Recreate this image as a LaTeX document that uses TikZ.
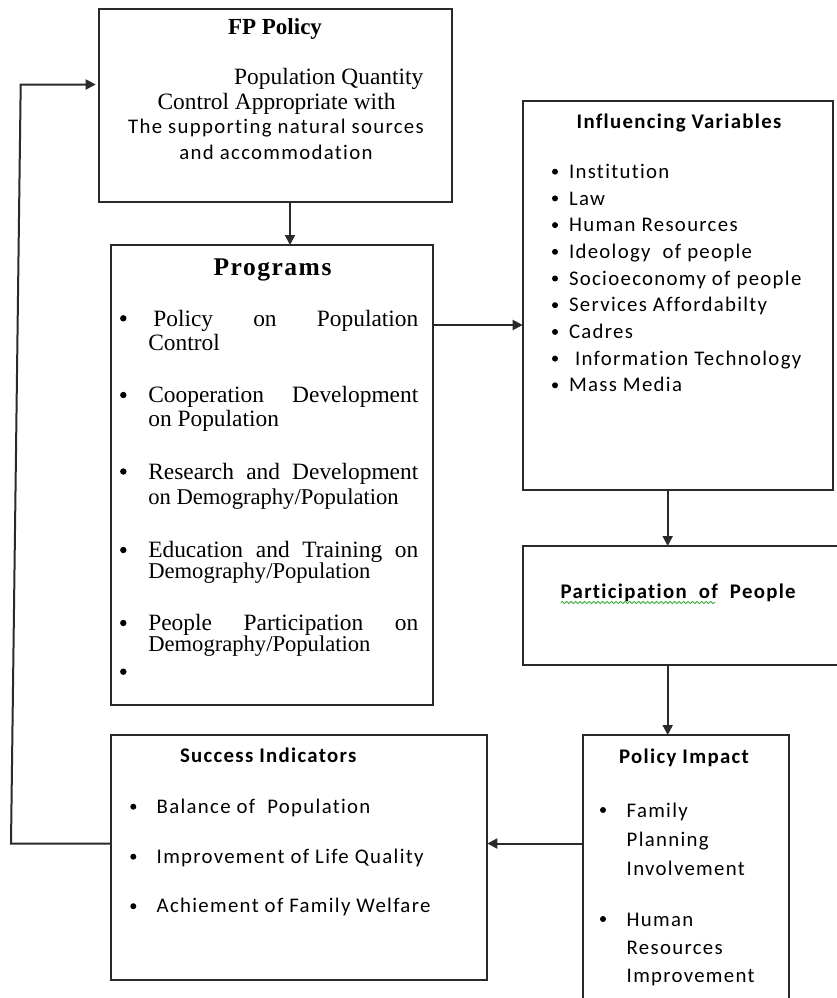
\documentclass[tikz,border=0pt]{standalone}
\usepackage{fontspec}
\setmainfont{Liberation Serif}
\newfontfamily\calfont[LetterSpace=6.3,Ligatures=NoCommon]{Carlito}
\usetikzlibrary{arrows.meta,calc,decorations.pathmorphing}
\definecolor{lc}{HTML}{2A2A2A}
\definecolor{sq}{HTML}{3FAE3F}
\tikzset{
  box/.style={draw=lc,line width=2pt,anchor=north west,inner sep=0pt,outer sep=0pt},
  arr/.style={draw=lc,line width=2pt,-{Triangle[length=10pt,width=10pt]}},
  ln/.style={draw=lc,line width=2pt},
  tx/.style={anchor=base west,inner sep=0pt,outer sep=0pt},
  txc/.style={anchor=base,inner sep=0pt,outer sep=0pt},
  tnr/.style={font=\fontsize{23.4}{28}\selectfont},
  tnrs/.style={font=\fontsize{22.6}{27}\selectfont},
  cb/.style={font=\calfont\fontsize{20.8}{25}\selectfont},
  cbb/.style={font=\calfont\bfseries\fontsize{20.8}{25}\selectfont},
  dot/.style={fill=black}
}
\begin{document}
\begin{tikzpicture}[x=1pt,y=-1pt]
\useasboundingbox (0,0) rectangle (837,998);
% boxes
\node[box,minimum width=353pt,minimum height=192.5pt] (fp) at (98.7,9.3) {};
\node[box,minimum width=322.6pt,minimum height=460pt] (prog) at (110.7,245) {};
\node[box,minimum width=310pt,minimum height=389pt] (inf) at (522.7,101) {};
\node[box,minimum width=330pt,minimum height=119pt] (par) at (522.7,546) {};
\node[box,minimum width=206.6pt,minimum height=280pt] (pi) at (582.7,735) {};
\node[box,minimum width=376.6pt,minimum height=245pt] (suc) at (110.7,735) {};
% FP Policy text
\node[txc,font=\bfseries\fontsize{23}{28}\selectfont] (fpt) at (275,34.3) {FP Policy};
\node[anchor=base east,inner sep=0pt,tnr] (fp1) at (423.5,84.3) {Population Quantity};
\node[txc,tnr] (fp2) at (276.5,109.3) {Control Appropriate with};
\node[txc,cb] (fp3) at (276,133.3) {The supporting natural sources};
\node[txc,cb] (fp4) at (276,159.3) {and accommodation};
% Programs
\node[txc,font=\bfseries\fontsize{25.5}{30}\selectfont] (pt) at (272.5,275) {\addfontfeature{LetterSpace=6}Programs};
\node[tx,tnr] (p1a) at (153.3,326) {\makebox[265pt][l]{Policy\hfill on\hfill Population}};
\node[tx,tnr] (p1b) at (148.3,350) {Control};
\node[tx,tnr] (p2a) at (148.3,402.3) {\makebox[270pt][l]{Cooperation\hfill Development}};
\node[tx,tnr] (p2b) at (148.3,426.7) {on Population};
\node[tx,tnr] (p3a) at (148.3,479) {\makebox[270pt][l]{Research\hfill and\hfill Development}};
\node[tx,tnrs] (p3b) at (148.3,504) {on Demography/Population};
\node[tx,tnr] (p4a) at (148.3,557.3) {\makebox[270pt][l]{Education\hfill and\hfill Training\hfill on}};
\node[tx,tnrs] (p4b) at (148.3,578.3) {Demography/Population};
\node[tx,tnr] (p5a) at (148.3,630.7) {\makebox[270pt][l]{People\hfill Participation\hfill on}};
\node[tx,tnrs] (p5b) at (148.3,651.7) {Demography/Population};
\foreach \y in {318.3,395,471.5,550,623,671.7} \fill[dot] (123.3,\y) circle (3.2pt);
% Influencing Variables
\node[txc,cbb] (it) at (679,128.3) {Influencing Variables};
\foreach \t [count=\i from 0] in {Institution,Law,Human Resources,Ideology\ \ of people,Socioeconomy of people,Services Affordabilty,Cadres,\ Information Technology,Mass Media}{
  \node[tx,cb] (iv\i) at (569,178.3+26.7*\i) {\t};
  \fill[dot] (555,171.7+26.7*\i) circle (3pt);
}
% Participation
\node[tx,cbb] (pp) at (560.7,598.3) {Participation\ \ of\ \ People};
\draw[sq,line width=0.8pt,decorate,decoration={snake,amplitude=1.1pt,segment length=4.5pt}] (560.7,602.5) -- (715,602.5);
% Policy Impact
\node[txc,cbb] (pit) at (684,763.3) {Policy Impact};
\node[tx,cb] (pi1) at (626.7,817.3) {Family};
\node[tx,cb] (pi2) at (626.7,846) {Planning};
\node[tx,cb] (pi3) at (626.7,875) {Involvement};
\node[tx,cb] (pi4) at (626.7,926) {Human};
\node[tx,cb] (pi5) at (626.7,954) {Resources};
\node[tx,cb] (pi6) at (626.7,982.7) {Improvement};
\fill[dot] (603,810) circle (3pt);
\fill[dot] (603,919) circle (3pt);
% Success Indicators
\node[tx,cbb] (st) at (180,762.7) {Success Indicators};
\node[tx,cb] (s1) at (156.7,813.3) {Balance of\ \ Population};
\node[tx,cb] (s2) at (156.7,863.3) {Improvement of Life Quality};
\node[tx,cb] (s3) at (156.7,912.7) {Achiement of Family Welfare};
\foreach \y in {806.7,856.7,906.2} \fill[dot] (133.3,\y) circle (3pt);
% connectors
\coordinate (xa) at (290,0);
\coordinate (ya) at (0,325);
\coordinate (xb) at (667.7,0);
\coordinate (fb1) at (11,843.5);
\coordinate (fb2) at (20.7,84.5);
\draw[arr] (xa |- fp.south) -- (xa |- prog.north);
\draw[arr] (ya -| prog.east) -- (ya -| inf.west);
\draw[arr] (xb |- inf.south) -- (xb |- par.north);
\draw[arr] (xb |- par.south) -- (xb |- pi.north);
\draw[arr] (fb1 -| pi.west) -- (fb1 -| suc.east);
\draw[arr] (fb1 -| suc.west) -- (fb1) -- (fb2) -- ($(fb2 -| fp.west)+(-3,0)$);
\end{tikzpicture}
\end{document}
